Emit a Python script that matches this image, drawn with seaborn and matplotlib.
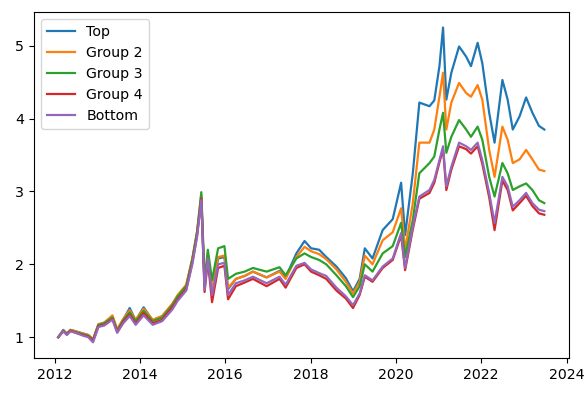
import pandas as pd
import numpy as np
import matplotlib
matplotlib.use("Agg")
import matplotlib.pyplot as plt
import seaborn as sns

# значения (опорные даты)
dates = [
    "2012-02-01", "2012-03-15", "2012-04-15", "2012-05-15", "2012-07-01",
    "2012-09-01", "2012-10-15", "2012-11-25", "2013-01-10", "2013-03-01",
    "2013-05-10", "2013-06-20", "2013-08-10", "2013-10-05", "2013-11-25",
    "2014-02-01", "2014-04-20", "2014-07-10", "2014-10-05", "2014-11-20",
    "2015-02-01", "2015-03-25", "2015-05-05", "2015-06-10", "2015-07-08",
    "2015-08-05", "2015-09-10", "2015-11-01", "2015-12-25", "2016-01-25",
    "2016-04-01", "2016-06-15", "2016-08-25", "2016-12-20", "2017-04-10",
    "2017-06-01", "2017-09-01", "2017-11-10", "2018-01-05", "2018-03-15",
    "2018-05-15", "2018-08-10", "2018-10-30", "2018-12-30", "2019-02-25",
    "2019-04-10", "2019-06-15", "2019-09-10", "2019-12-05", "2020-02-15",
    "2020-03-20", "2020-05-25", "2020-07-20", "2020-10-15", "2020-11-25",
    "2021-01-08", "2021-02-08", "2021-03-08", "2021-04-20", "2021-06-25",
    "2021-08-25", "2021-10-05", "2021-12-01", "2022-01-10", "2022-03-10",
    "2022-04-25", "2022-07-01", "2022-08-15", "2022-09-28", "2022-11-25",
    "2023-01-20", "2023-03-15", "2023-05-10", "2023-06-25",
]

top = [
    1.00, 1.10, 1.05, 1.10, 1.08, 1.05, 1.03, 0.97, 1.17, 1.20,
    1.28, 1.10, 1.24, 1.40, 1.23, 1.41, 1.23, 1.29, 1.45, 1.56,
    1.70, 2.06, 2.43, 2.92, 1.70, 2.10, 1.62, 2.08, 2.10, 1.66,
    1.80, 1.84, 1.90, 1.82, 1.91, 1.82, 2.15, 2.32, 2.22, 2.20,
    2.10, 1.97, 1.81, 1.63, 1.80, 2.22, 2.08, 2.47, 2.62, 3.12,
    2.40, 3.25, 4.22, 4.17, 4.25, 4.72, 5.25, 4.26, 4.63, 4.99,
    4.85, 4.72, 5.04, 4.76, 4.08, 3.67, 4.53, 4.26, 3.85, 4.03,
    4.29, 4.08, 3.90, 3.85,
]
group2 = [
    1.00, 1.09, 1.05, 1.10, 1.08, 1.05, 1.03, 0.97, 1.18, 1.20,
    1.30, 1.11, 1.25, 1.37, 1.24, 1.39, 1.24, 1.29, 1.46, 1.58,
    1.72, 2.08, 2.45, 2.95, 1.73, 2.12, 1.64, 2.10, 2.12, 1.68,
    1.80, 1.84, 1.90, 1.82, 1.90, 1.80, 2.10, 2.24, 2.18, 2.14,
    2.07, 1.93, 1.76, 1.60, 1.76, 2.12, 2.00, 2.33, 2.44, 2.77,
    2.20, 2.84, 3.67, 3.67, 3.85, 4.30, 4.63, 3.85, 4.22, 4.49,
    4.35, 4.30, 4.46, 4.26, 3.57, 3.20, 3.89, 3.71, 3.39, 3.44,
    3.57, 3.44, 3.30, 3.28,
]
group3 = [
    1.00, 1.09, 1.04, 1.09, 1.07, 1.04, 1.02, 0.96, 1.17, 1.19,
    1.27, 1.09, 1.23, 1.34, 1.22, 1.36, 1.22, 1.27, 1.44, 1.56,
    1.70, 2.07, 2.45, 2.99, 1.78, 2.20, 1.78, 2.22, 2.25, 1.80,
    1.87, 1.90, 1.95, 1.90, 1.96, 1.85, 2.08, 2.15, 2.10, 2.06,
    2.00, 1.85, 1.70, 1.55, 1.70, 2.00, 1.90, 2.15, 2.25, 2.57,
    2.10, 2.61, 3.25, 3.39, 3.48, 3.85, 4.08, 3.53, 3.75, 3.98,
    3.85, 3.75, 3.89, 3.71, 3.20, 2.93, 3.39, 3.25, 3.02, 3.07,
    3.11, 3.02, 2.88, 2.84,
]
group4 = [
    1.00, 1.08, 1.04, 1.09, 1.06, 1.03, 1.01, 0.95, 1.15, 1.17,
    1.25, 1.07, 1.21, 1.31, 1.19, 1.33, 1.19, 1.24, 1.41, 1.52,
    1.66, 2.02, 2.40, 2.90, 1.62, 2.05, 1.48, 1.95, 1.98, 1.52,
    1.70, 1.75, 1.80, 1.70, 1.80, 1.68, 1.95, 2.00, 1.90, 1.85,
    1.80, 1.64, 1.53, 1.40, 1.58, 1.83, 1.76, 1.95, 2.06, 2.40,
    1.92, 2.48, 2.90, 2.98, 3.12, 3.40, 3.58, 3.02, 3.30, 3.62,
    3.58, 3.52, 3.62, 3.38, 2.92, 2.47, 3.15, 3.02, 2.74, 2.84,
    2.94, 2.80, 2.70, 2.68,
]
bottom = [
    1.00, 1.08, 1.03, 1.08, 1.06, 1.02, 1.00, 0.93, 1.14, 1.16,
    1.24, 1.06, 1.19, 1.29, 1.17, 1.30, 1.17, 1.22, 1.38, 1.50,
    1.64, 2.00, 2.38, 2.88, 1.65, 2.08, 1.58, 2.00, 2.02, 1.58,
    1.74, 1.78, 1.83, 1.74, 1.83, 1.72, 1.98, 2.02, 1.93, 1.88,
    1.84, 1.68, 1.56, 1.44, 1.60, 1.85, 1.78, 1.97, 2.08, 2.43,
    1.95, 2.52, 2.93, 3.02, 3.16, 3.43, 3.62, 3.07, 3.34, 3.67,
    3.62, 3.57, 3.67, 3.43, 2.98, 2.57, 3.20, 3.07, 2.79, 2.88,
    2.98, 2.84, 2.75, 2.73,
]

groups = ["Top", "Group 2", "Group 3", "Group 4", "Bottom"]
series = [top, group2, group3, group4, bottom]

df = pd.concat(
    [pd.DataFrame({"date": pd.to_datetime(dates), "value": s, "group": g})
     for g, s in zip(groups, series)],
    ignore_index=True,
)

plt.rcParams["font.size"] = 10.2
plt.rcParams["xtick.major.size"] = 3.8
plt.rcParams["ytick.major.size"] = 3.8

fig = plt.figure(figsize=(5.85, 3.93), dpi=100)
ax = fig.add_axes([0.058, 0.089, 0.914, 0.881])
sns.lineplot(data=df, x="date", y="value", hue="group", hue_order=groups,
             palette="tab10", linewidth=1.6, ax=ax)
ax.set_xlabel("")
ax.set_ylabel("")
ax.set_yticks([1, 2, 3, 4, 5])
ax.legend(loc="upper left", title=None)

fig.savefig("out.png", dpi=100)
